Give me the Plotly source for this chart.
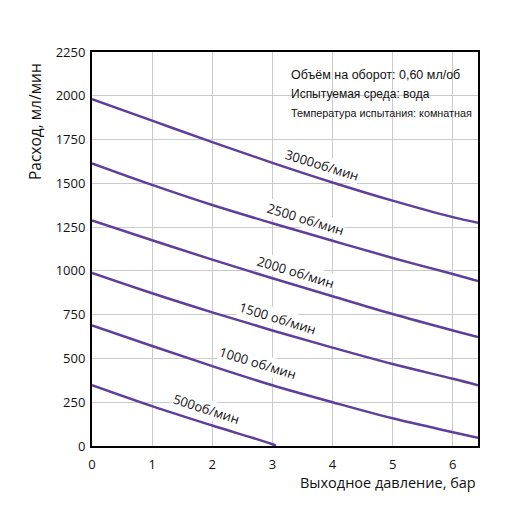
import plotly.graph_objects as go

pressure = [0, 1, 2, 3, 4, 5, 6, 6.42]
flow_3000 = [1981, 1858, 1735, 1617, 1505, 1401, 1307, 1275]
flow_2500 = [1614, 1491, 1376, 1272, 1172, 1074, 982, 942]
flow_2000 = [1288, 1175, 1064, 958, 855, 754, 660, 622]
flow_1500 = [988, 872, 763, 660, 562, 468, 384, 347]
flow_1000 = [689, 571, 456, 347, 250, 158, 79, 47]
pressure_500 = [0, 1, 2, 3, 3.06]
flow_500 = [348, 228, 117, 10, 0]

series = [
    ("3000об/мин", pressure, flow_3000),
    ("2500 об/мин", pressure, flow_2500),
    ("2000 об/мин", pressure, flow_2000),
    ("1500 об/мин", pressure, flow_1500),
    ("1000 об/мин", pressure, flow_1000),
    ("500об/мин", pressure_500, flow_500),
]

# label anchor positions (data coords) and angles
label_pos = [(3.83, 1605, 17), (3.55, 1297, 17), (3.39, 994, 17), (3.08, 731, 17), (2.76, 474, 17), (1.91, 211, 18)]

line_color = "#5e3f9c"

fig = go.Figure()
for name, xs, ys in series:
    fig.add_trace(go.Scatter(x=xs, y=ys, mode="lines", name=name,
                             line=dict(color=line_color, width=2.5, shape="spline", smoothing=1.0),
                             showlegend=False, hoverinfo="skip"))

for (name, _, _), (lx, ly, ang) in zip(series, label_pos):
    fig.add_annotation(x=lx, y=ly, text=name, showarrow=False, textangle=ang,
                       font=dict(family="Open Sans", size=13, color="#111111"),
                       bgcolor="white", borderpad=0)

info_lines = ["Объём на оборот: 0,60 мл/об", "Испытуемая среда: вода", "Температура испытания: комнатная"]

fig.add_shape(type="rect", xref="x", yref="y", x0=3.18, x1=6.42, y0=1800, y1=2250,
              fillcolor="white", line=dict(width=0), layer="below")
info_x = (289 - 92) / 386
for text, py, size in zip(info_lines, [75, 94, 113], [12.5, 12, 10.8]):
    fig.add_annotation(xref="paper", yref="paper", x=info_x, y=(446 - py) / 394,
                       xanchor="left", yanchor="middle", text=text, showarrow=False,
                       font=dict(family="Liberation Sans", size=size, color="#111111"))

# axis titles
fig.add_annotation(xref="paper", yref="paper", x=(35 - 92) / 386, y=(446 - 122) / 394,
                   text="Расход, мл/мин", textangle=-90, showarrow=False,
                   xanchor="center", yanchor="middle",
                   font=dict(family="Open Sans", size=15.5, color="#111111"))
fig.add_annotation(xref="paper", yref="paper", x=1.0, y=(446 - 482) / 394,
                   text="Выходное давление, бар", showarrow=False,
                   xanchor="right", yanchor="middle",
                   font=dict(family="Open Sans", size=14.5, color="#111111"))

fig.update_xaxes(range=[0, 6.42], tickmode="array", tickvals=[0, 1, 2, 3, 4, 5, 6],
                 showgrid=True, gridcolor="#cacaca", gridwidth=1,
                 showline=True, linecolor="black", linewidth=2, mirror=True,
                 ticks="", ticklabelstandoff=5, zeroline=False,
                 tickfont=dict(family="Open Sans", size=13, color="#111111"))
fig.update_yaxes(range=[0, 2250], tickmode="array",
                 tickvals=[0, 250, 500, 750, 1000, 1250, 1500, 1750, 2000, 2250],
                 showgrid=True, gridcolor="#cacaca", gridwidth=1,
                 showline=True, linecolor="black", linewidth=2, mirror=True,
                 ticks="", ticklabelstandoff=2, zeroline=False,
                 tickfont=dict(family="Open Sans", size=13, color="#111111"))

fig.update_layout(width=512, height=513, margin=dict(l=92, r=34, t=52, b=67),
                  plot_bgcolor="white", paper_bgcolor="white")

fig.write_html("out.html")
